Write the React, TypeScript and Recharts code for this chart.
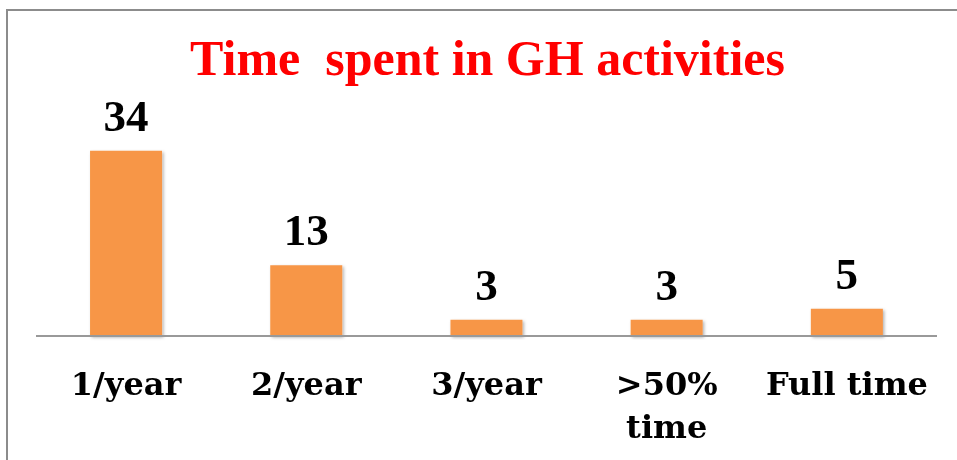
import { BarChart, Bar, XAxis, YAxis, LabelList } from 'recharts'

const categories = ['1/year', '2/year', '3/year', '>50%\ntime', 'Full time']
const counts = [34, 13, 3, 3, 5]

const data = categories.map((name, i) => ({ name, value: counts[i] }))

const serif = '"Liberation Serif", "Times New Roman", serif'
const wideSerif = '"DejaVu Serif", serif'

function CategoryTick(props: any) {
  const { x, y, payload } = props
  const lines = String(payload.value).split('\n')
  return (
    <text
      x={x}
      y={y + 51}
      textAnchor="middle"
      fontFamily={wideSerif}
      fontWeight="bold"
      fontSize={32}
      fill="#000"
    >
      {lines.map((line, i) => (
        <tspan key={i} x={x} dy={i === 0 ? 0 : 43}>
          {line}
        </tspan>
      ))}
    </text>
  )
}

function ValueLabel(props: any) {
  const { x, y, width, value } = props
  return (
    <text
      x={x + width / 2}
      y={y - 20}
      textAnchor="middle"
      fontFamily={serif}
      fontWeight="bold"
      fontSize={45}
      fill="#000"
    >
      {value}
    </text>
  )
}

export default function App() {
  return (
    <div style={{ position: 'relative', width: 941, height: 444 }}>
      {/* frame, only top and left edges are visible in the picture */}
      <div
        style={{
          position: 'fixed',
          left: 6,
          top: 9,
          width: 1000,
          height: 1000,
          borderTop: '2px solid #8c8c8c',
          borderLeft: '2px solid #8c8c8c',
          pointerEvents: 'none',
        }}
      />
      <svg width={941} height={100} style={{ position: 'absolute', left: 0, top: 0 }}>
        <text
          x={479.5}
          y={67}
          textAnchor="middle"
          fontFamily={serif}
          fontWeight="bold"
          fontSize={50}
          fill="#ff0000"
          style={{ whiteSpace: 'pre' }}
        >
          {'Time  spent in GH activities'}
        </text>
      </svg>
      <div style={{ position: 'absolute', left: 0, top: 0 }}>
        <BarChart
          width={941}
          height={444}
          data={data}
          margin={{ top: 110, right: 12, left: 28, bottom: 0 }}
          barCategoryGap="30%"
        >
          <defs>
            <filter id="barShadow" x="-10%" y="-10%" width="130%" height="130%">
              <feDropShadow dx="1.5" dy="1.5" stdDeviation="1.5" floodColor="#000" floodOpacity="0.3" />
            </filter>
          </defs>
          <XAxis
            dataKey="name"
            height={116}
            interval={0}
            tickLine={false}
            axisLine={{ stroke: '#999', strokeWidth: 2 }}
            tick={<CategoryTick />}
          />
          <YAxis hide domain={[0, 40]} />
          <Bar dataKey="value" fill="#f79646" isAnimationActive={false} filter="url(#barShadow)">
            <LabelList dataKey="value" content={<ValueLabel />} />
          </Bar>
        </BarChart>
      </div>
    </div>
  )
}
